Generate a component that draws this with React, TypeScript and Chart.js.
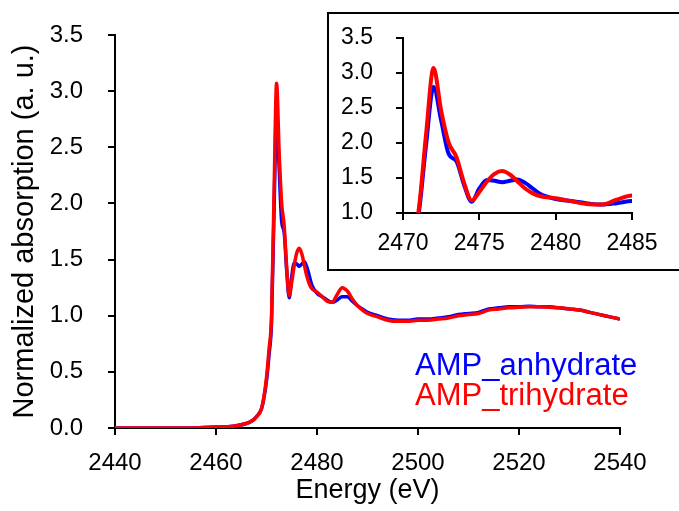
import React, { useEffect, useRef } from "react";
import { Chart, registerables } from "chart.js";

Chart.register(...registerables);

// ---- data ----
const energy = [
  2440, 2445, 2450, 2455, 2460, 2462, 2464, 2466, 2467, 2468,
  2469, 2469.5, 2470, 2470.5, 2471, 2471.5, 2472, 2472.5, 2473, 2473.5,
  2474, 2474.5, 2475, 2475.5, 2476, 2476.5, 2477, 2477.5, 2478, 2478.5,
  2479, 2480, 2481, 2482, 2483, 2484, 2485, 2486, 2487, 2488,
  2489, 2490, 2492, 2494, 2496, 2498, 2500, 2502, 2504, 2506,
  2508, 2510, 2512, 2514, 2516, 2518, 2520, 2522, 2524, 2526,
  2528, 2530, 2532, 2534, 2536, 2538, 2540,
];

const anhydrate = [
  0.0, 0.0, 0.0, 0.0, 0.01, 0.01, 0.02, 0.04, 0.06, 0.1,
  0.17, 0.27, 0.42, 0.65, 0.95, 1.95, 2.8, 2.32, 1.84, 1.74,
  1.4, 1.16, 1.35, 1.47, 1.46, 1.44, 1.46, 1.48, 1.43, 1.35,
  1.27, 1.2, 1.17, 1.14, 1.12, 1.14, 1.17, 1.17, 1.13, 1.09,
  1.06, 1.03, 1.0, 0.97, 0.96, 0.96, 0.97, 0.97, 0.98, 0.99,
  1.01, 1.02, 1.03, 1.06, 1.07, 1.08, 1.08, 1.085, 1.08, 1.08,
  1.07, 1.06, 1.05, 1.03, 1.01, 0.99, 0.97,
];

const trihydrate = [
  0.0, 0.0, 0.0, 0.0, 0.01, 0.01, 0.02, 0.04, 0.06, 0.1,
  0.17, 0.28, 0.45, 0.7, 1.0, 2.1, 3.07, 2.46, 2.0, 1.8,
  1.43, 1.18, 1.3, 1.45, 1.56, 1.6, 1.55, 1.45, 1.35, 1.28,
  1.24, 1.21, 1.17, 1.13, 1.12, 1.19, 1.25, 1.22, 1.15, 1.09,
  1.05, 1.02, 0.99, 0.96, 0.95, 0.95, 0.96, 0.96, 0.97, 0.98,
  1.0, 1.01, 1.02, 1.05, 1.06, 1.07, 1.075, 1.08, 1.08, 1.075,
  1.07, 1.06, 1.05, 1.03, 1.01, 0.99, 0.97,
];

const seriesNames = ["AMP_anhydrate", "AMP_trihydrate"];
const seriesColors = ["#0000ff", "#ff0000"];

const mainXRange = [2440, 2540];
const mainXStep = 20;
const mainYRange = [0, 3.5];
const mainYStep = 0.5;
const insetXRange = [2470, 2485];
const insetXStep = 5;
const insetYRange = [1.0, 3.5];
const insetYStep = 0.5;

const xTitle = "Energy (eV)";
const yTitle = "Normalized absorption (a. u.)";

const FONT = "'Liberation Sans', Arial, sans-serif";

function makeDatasets(lineWidth: number) {
  const series = [anhydrate, trihydrate];
  return series.map((vals, i) => ({
    label: seriesNames[i],
    data: energy.map((x, k) => ({ x, y: vals[k] })),
    borderColor: seriesColors[i],
    backgroundColor: seriesColors[i],
    borderWidth: lineWidth,
    pointRadius: 0,
    cubicInterpolationMode: "monotone" as const,
    fill: false,
    order: series.length - i, // later series drawn on top
  }));
}

function axisCommon(tickSize: number) {
  return {
    grid: {
      display: true,
      drawOnChartArea: false,
      drawTicks: true,
      tickLength: 7,
      tickWidth: 2,
      tickColor: "#000",
      color: "#000",
      lineWidth: 2,
    },
    border: { display: true, color: "#000", width: 2 },
    ticks: {
      color: "#000",
      font: { family: FONT, size: tickSize },
    },
  };
}

export default function App() {
  const mainRef = useRef<HTMLCanvasElement | null>(null);
  const insetRef = useRef<HTMLCanvasElement | null>(null);

  useEffect(() => {
    if (!mainRef.current || !insetRef.current) return;

    const mx = axisCommon(24);
    const my = axisCommon(24);
    const main = new Chart(mainRef.current, {
      type: "line",
      data: { datasets: makeDatasets(3.5) as any },
      options: {
        responsive: false,
        animation: false,
        events: [],
        layout: { padding: { left: 0, top: 35, right: 59, bottom: 0 } },
        plugins: { legend: { display: false }, tooltip: { enabled: false } },
        scales: {
          x: {
            type: "linear",
            min: mainXRange[0],
            max: mainXRange[1],
            ...mx,
            ticks: {
              ...mx.ticks,
              stepSize: mainXStep,
              padding: 14,
              maxRotation: 0,
              callback: (v: any) => String(v),
            },
            title: {
              display: true,
              text: xTitle,
              color: "#000",
              font: { family: FONT, size: 27 },
              padding: { top: 0, bottom: 4 },
            },
            afterFit: (s: any) => {
              s.height = 83;
            },
          },
          y: {
            type: "linear",
            min: mainYRange[0],
            max: mainYRange[1],
            ...my,
            ticks: {
              ...my.ticks,
              stepSize: mainYStep,
              padding: 25,
              callback: (v: any) => Number(v).toFixed(1),
            },
            title: {
              display: true,
              text: yTitle,
              color: "#000",
              font: { family: FONT, size: 29 },
              padding: { top: 8, bottom: 0 },
            },
            afterFit: (s: any) => {
              s.width = 115;
              s.paddingTop = 0;
              s.paddingBottom = 0;
            },
          },
        },
      } as any,
    });

    const ix = axisCommon(23);
    const iy = axisCommon(23);
    const inset = new Chart(insetRef.current, {
      type: "line",
      data: { datasets: makeDatasets(4) as any },
      options: {
        responsive: false,
        animation: false,
        events: [],
        layout: { padding: { left: 0, top: 24, right: 47, bottom: 0 } },
        plugins: { legend: { display: false }, tooltip: { enabled: false } },
        scales: {
          x: {
            type: "linear",
            min: insetXRange[0],
            max: insetXRange[1],
            ...ix,
            ticks: {
              ...ix.ticks,
              stepSize: insetXStep,
              padding: 10,
              maxRotation: 0,
              callback: (v: any) => String(v),
            },
            afterFit: (s: any) => {
              s.height = 56;
            },
          },
          y: {
            type: "linear",
            min: insetYRange[0],
            max: insetYRange[1],
            ...iy,
            ticks: {
              ...iy.ticks,
              stepSize: insetYStep,
              padding: 23,
              callback: (v: any) => Number(v).toFixed(1),
            },
            afterFit: (s: any) => {
              s.width = 74;
              s.paddingTop = 0;
              s.paddingBottom = 0;
            },
          },
        },
      } as any,
    });

    return () => {
      main.destroy();
      inset.destroy();
    };
  }, []);

  return (
    <div
      style={{
        position: "fixed",
        left: 0,
        top: 0,
        width: 679,
        height: 511,
        overflow: "hidden",
        background: "#fff",
      }}
    >
      <canvas
        ref={mainRef}
        width={679}
        height={511}
        style={{ position: "absolute", left: 0, top: 0, display: "block" }}
      />
      <div
        style={{
          position: "absolute",
          left: 327,
          top: 12,
          width: 400,
          height: 255,
          border: "2px solid #000",
          background: "#fff",
        }}
      >
        <canvas
          ref={insetRef}
          width={350}
          height={255}
          style={{ position: "absolute", left: 0, top: 0, display: "block" }}
        />
      </div>
      <div
        style={{
          position: "absolute",
          left: 415,
          top: 350,
          fontFamily: FONT,
          fontSize: 31,
          lineHeight: "30px",
          whiteSpace: "nowrap",
        }}
      >
        <div style={{ color: seriesColors[0] }}>{seriesNames[0]}</div>
        <div style={{ color: seriesColors[1] }}>{seriesNames[1]}</div>
      </div>
    </div>
  );
}
